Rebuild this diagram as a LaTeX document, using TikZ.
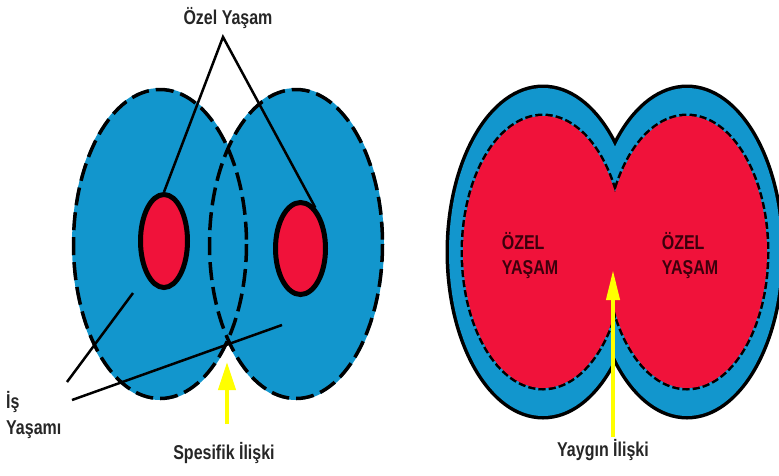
\documentclass[tikz,border=0pt]{standalone}
\usepackage{fontspec}
\setmainfont{Liberation Sans}[FakeStretch=0.8]
\usetikzlibrary{arrows.meta, shapes.geometric}
\definecolor{lifeblue}{RGB}{18,150,205}
\definecolor{lifered}{RGB}{240,18,58}
\definecolor{arrowyellow}{RGB}{255,255,0}
\definecolor{darktext}{RGB}{60,0,12}
\tikzset{
  caption/.style={font=\bfseries\fontsize{20}{27}\selectfont, text=black!85, inner sep=0pt},
  capsname/.style={font=\bfseries\fontsize{20}{25}\selectfont, text=darktext, align=left, inner sep=0pt},
  workzone/.style={fill=lifeblue, draw=black, line width=3.5pt, dash pattern=on 18pt off 7pt},
  redspot/.style={ellipse, draw=black, fill=lifered, line width=5pt, inner sep=0pt},
  leader/.style={line width=2.5pt},
  yellowarrow/.style={draw=arrowyellow, line width=4pt, -{Triangle[length=28pt,width=17pt]}}
}
\begin{document}
\begin{tikzpicture}[x=1pt,y=-1pt]
    \useasboundingbox (0,0) rectangle (779,475);
    \fill[white] (0,0) rectangle (779,475);

    % specific relation: two overlapping work lives
    \fill[lifeblue] (160,244) ellipse [x radius=88, y radius=156];
    \fill[lifeblue] (296,244) ellipse [x radius=88, y radius=156];
    \draw[workzone, fill=none] (160,244) ellipse [x radius=86.5, y radius=154.5];
    \draw[workzone, fill=none] (296,244) ellipse [x radius=86.5, y radius=154.5];

    \node[redspot, minimum width=47pt, minimum height=93pt] (redL) at (164,241) {};
    \node[redspot, minimum width=50pt, minimum height=92pt] (redR) at (300.5,248.5) {};

    \node[caption] (ozel) at (228,18) {Özel Yaşam};
    \coordinate (ozelTip) at (223,37);
    \draw[leader] (redL.north) -- (ozelTip) -- (redR.70);

    \node[caption, align=left, anchor=west] (isLife) at (6,415) {İş\\Yaşamı};
    \coordinate (isStartA) at (67,382);
    \coordinate (isStartB) at (72,400);
    \coordinate (isEndA) at (133,293);
    \coordinate (isEndB) at (282,325);
    \draw[leader] (isStartA) -- (isEndA);
    \draw[leader] (isStartB) -- (isEndB);

    \node[caption] (spec) at (224,453) {Spesifik İlişki};
    \coordinate (specBase) at (227,424);
    \coordinate (specTip) at (227,362);
    \draw[yellowarrow] (specBase) -- (specTip);

    % pervasive relation: private lives merged
    \draw[line width=7pt] (543,252) ellipse [x radius=94, y radius=164];
    \draw[line width=7pt] (687,252) ellipse [x radius=94, y radius=164];
    \fill[lifeblue] (543,252) ellipse [x radius=94, y radius=164];
    \fill[lifeblue] (687,252) ellipse [x radius=94, y radius=164];

    \draw[line width=5pt, dash pattern=on 7pt off 3pt] (543,252) ellipse [x radius=80, y radius=136];
    \draw[line width=5pt, dash pattern=on 7pt off 3pt] (687,252) ellipse [x radius=80, y radius=136];
    \fill[lifered] (543,252) ellipse [x radius=80, y radius=136];
    \fill[lifered] (687,252) ellipse [x radius=80, y radius=136];

    \node[capsname] (privL) at (530,256) {ÖZEL\\YAŞAM};
    \node[capsname] (privR) at (690,256) {ÖZEL\\YAŞAM};

    \node[caption] (yaygin) at (603,450) {Yaygın İlişki};
    \coordinate (yayBase) at (613,437);
    \coordinate (yayTip) at (613,270);
    \draw[yellowarrow, -{Triangle[length=30pt,width=13pt]}] (yayBase) -- (yayTip);
\end{tikzpicture}
\end{document}
